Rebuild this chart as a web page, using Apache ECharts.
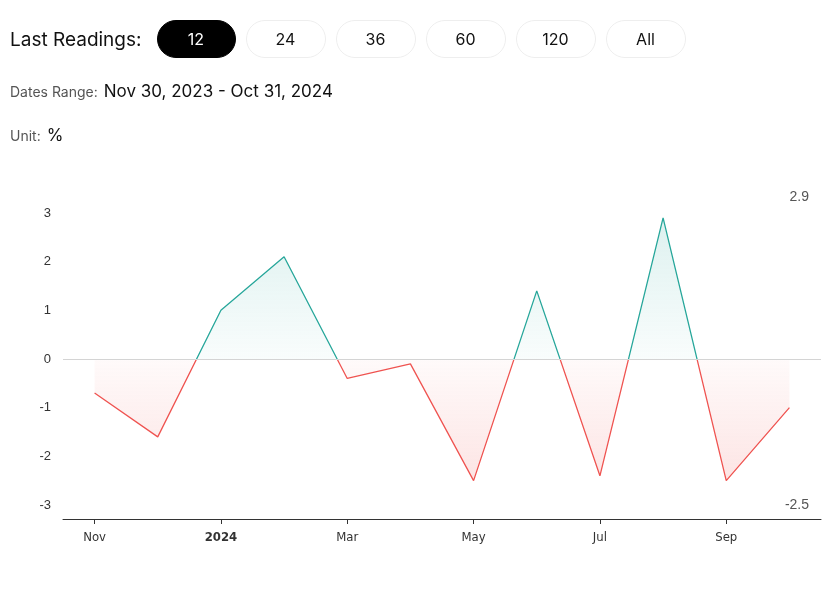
<!DOCTYPE html>
<html>
<head>
<meta charset="utf-8">
<script src="https://cdn.jsdelivr.net/npm/echarts@6/dist/echarts.min.js"></script>
<style>
  html, body { margin: 0; padding: 0; background: #fff; }
  body { width: 829px; height: 590px; position: relative; overflow: hidden; font-family: Inter, "Noto Sans", sans-serif; }
  #chart { position: absolute; left: 0; top: 0; width: 829px; height: 590px; }
  .head { position: absolute; left: 10px; top: 20px; height: 38px; display: flex; align-items: center; z-index: 2; }
  .head .title { font-size: 19px; color: #111; margin-right: 15px; }
  .btn { box-sizing: border-box; width: 80px; height: 38px; border: 1px solid #eee; border-radius: 19px; margin-right: 10px;
         display: flex; align-items: center; justify-content: center; font-size: 16px; color: #111; }
  .btn.on { background: #000; color: #fff; border-color: #000; width: 79px; }
  .info { position: absolute; left: 10px; z-index: 2; display: flex; align-items: baseline; }
  .info .k { font-size: 14px; color: #555; margin-right: 6px; }
  .info .v { font-size: 17px; color: #111; }
</style>
</head>
<body>
<div class="head">
  <span class="title">Last Readings:</span>
  <div class="btn on">12</div>
  <div class="btn">24</div>
  <div class="btn">36</div>
  <div class="btn">60</div>
  <div class="btn">120</div>
  <div class="btn">All</div>
</div>
<div class="info" style="top:81px"><span class="k">Dates Range:</span><span class="v">Nov 30, 2023 - Oct 31, 2024</span></div>
<div class="info" style="top:125px"><span class="k">Unit:</span><span class="v">%</span></div>
<div id="chart"></div>
<script>
// monthly readings, Nov 2023 .. Oct 2024
var dates = ['2023-11', '2023-12', '2024-01', '2024-02', '2024-03', '2024-04',
             '2024-05', '2024-06', '2024-07', '2024-08', '2024-09', '2024-10']
var values = [-0.7, -1.6, 1.0, 2.1, -0.4, -0.1, -2.5, 1.4, -2.4, 2.9, -2.5, -1.0]
var monthNames = ['Jan', 'Feb', 'Mar', 'Apr', 'May', 'Jun', 'Jul', 'Aug', 'Sep', 'Oct', 'Nov', 'Dec']
var yTicks = [-3, -2, -1, 0, 1, 2, 3]

var up = '#26a69a'
var down = '#ef5350'

var maxV = Math.max.apply(null, values)
var minV = Math.min.apply(null, values)
var zeroAt = maxV / (maxV - minV)

var labelFont = '"Liberation Sans Narrow", "DejaVu Sans Condensed", sans-serif'

var chart = echarts.init(document.getElementById('chart'))

chart.setOption({
  animation: false,
  grid: { left: 63, right: 8, top: 213, bottom: 85 },
  xAxis: {
    type: 'category',
    data: dates,
    boundaryGap: true,
    offset: 14,
    axisLine: { show: true, onZero: false, lineStyle: { color: '#333', width: 1 } },
    axisTick: { show: true, alignWithLabel: true, interval: 1, length: 5, lineStyle: { color: '#333' } },
    axisLabel: {
      interval: 1,
      margin: 12,
      color: '#333',
      fontSize: 13,
      fontFamily: labelFont,
      formatter: function (v) {
        var p = v.split('-')
        var m = parseInt(p[1], 10)
        return m === 1 ? '{y|' + p[0] + '}' : monthNames[m - 1]
      },
      rich: { y: { fontWeight: 'bold', fontSize: 13, color: '#333', fontFamily: labelFont } }
    },
    splitLine: { show: false }
  },
  yAxis: {
    type: 'value',
    min: yTicks[0],
    max: yTicks[yTicks.length - 1],
    interval: 1,
    axisLine: { show: false },
    axisTick: { show: false },
    splitLine: { show: false },
    axisLabel: { color: '#333', fontSize: 13, margin: 12, fontFamily: '"Liberation Sans", Arial, sans-serif' }
  },
  visualMap: {
    type: 'piecewise',
    show: false,
    dimension: 1,
    seriesIndex: 0,
    pieces: [{ gt: 0, lte: 100, color: up }, { gt: -100, lte: 0, color: down }]
  },
  series: [{
    type: 'line',
    data: values,
    showSymbol: false,
    symbol: 'none',
    lineStyle: { width: 1.3 },
    areaStyle: {
      color: new echarts.graphic.LinearGradient(0, 0, 0, 1, [
        { offset: 0, color: 'rgba(38,166,154,0.22)' },
        { offset: zeroAt, color: 'rgba(38,166,154,0.04)' },
        { offset: zeroAt, color: 'rgba(239,83,80,0.04)' },
        { offset: 1, color: 'rgba(239,83,80,0.22)' }
      ])
    },
    markLine: {
      silent: true,
      symbol: ['none', 'none'],
      label: { show: false },
      lineStyle: { color: '#d4d4d4', type: 'solid', width: 1 },
      data: [{ yAxis: 0 }]
    }
  }],
  graphic: [
    { type: 'text', right: 20, top: 190,
      style: { text: String(maxV), fill: '#555', fontSize: 14, fontFamily: '"Liberation Sans", Arial, sans-serif' } },
    { type: 'text', right: 20, top: 498,
      style: { text: String(minV), fill: '#555', fontSize: 14, fontFamily: '"Liberation Sans", Arial, sans-serif' } }
  ]
})
</script>
</body>
</html>
